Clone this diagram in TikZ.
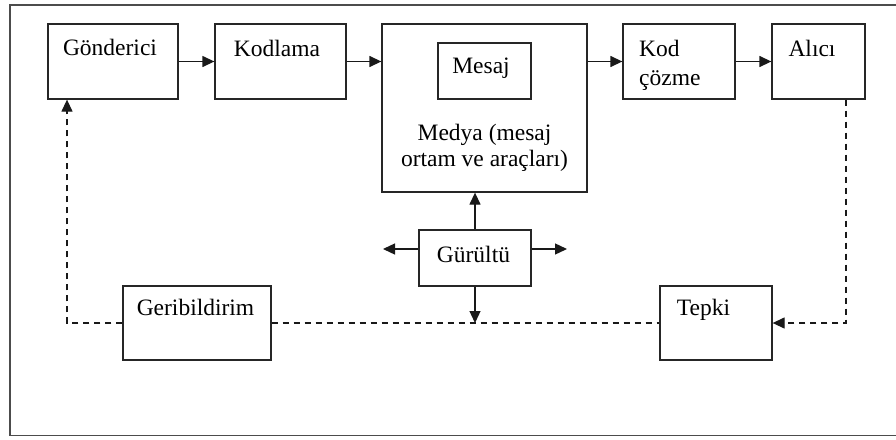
\documentclass[tikz,border=0pt]{standalone}
\usepackage{fontspec}
\setmainfont{Liberation Serif}
\usetikzlibrary{arrows.meta}
\begin{document}
\begin{tikzpicture}[x=1pt,y=-1pt,
  box/.style={draw=black!85,line width=1.3pt,inner sep=0pt,fill=none},
  txt/.style={anchor=base,inner sep=0pt,font=\fontsize{23.5}{28}\selectfont},
  tip/.style={-{Triangle[length=12pt,width=11pt]}},
  arr/.style={line width=1.3pt,draw=black!90,tip},
  dsh/.style={line width=1.3pt,draw=black!90,dash pattern=on 6pt off 5pt},
  frame/.style={line width=1.8pt,draw=black!70}]
\useasboundingbox (0,0) rectangle (896,439);
\fill[white] (0,0) rectangle (896,439);
\draw[frame] (897,5) -- (10,5) -- (10,435.5) -- (897,435.5);
% boxes
\node[box,minimum width=130pt,minimum height=75pt] (g) at (113,61.5) {};
\node[box,minimum width=131pt,minimum height=75pt] (k) at (280.5,61.5) {};
\node[box,minimum width=205pt,minimum height=168pt] (m) at (484.5,108) {};
\node[box,minimum width=93pt,minimum height=56pt] (ms) at (484.5,71) {};
\node[box,minimum width=112pt,minimum height=75pt] (kc) at (679,61.5) {};
\node[box,minimum width=93pt,minimum height=75pt] (al) at (818.5,61.5) {};
\node[box,minimum width=112pt,minimum height=56pt] (gu) at (475,258) {};
\node[box,minimum width=148pt,minimum height=74pt] (geri) at (197,323) {};
\node[box,minimum width=112pt,minimum height=74pt] (te) at (716,323) {};
% texts
\node[txt] (gT) at (110,55) {Gönderici};
\node[txt] (kT) at (277,56) {Kodlama};
\node[txt] (msT) at (481,73) {Mesaj};
\node[txt] (mT1) at (484.5,140) {Medya (mesaj};
\node[txt] (mT2) at (484.5,166) {ortam ve araçları)};
\node[txt,anchor=base west] (kcT1) at (639,56) {Kod};
\node[txt,anchor=base west] (kcT2) at (639,85) {çözme};
\node[txt] (alT) at (812,56) {Alıcı};
\node[txt] (guT) at (473.5,262) {Gürültü};
\node[txt] (geriT) at (195.5,315) {Geribildirim};
\node[txt] (teT) at (703.5,315) {Tepki};
% free ends
\coordinate (nl) at (383,249);
\coordinate (nr) at (567,249);
% main flow
\draw[arr] (g.east) -- (k.west);
\draw[arr] (k.east) -- (k.east -| m.west);
\draw[arr] (m.east |- kc.west) -- (kc.west);
\draw[arr] (kc.east) -- (al.west);
% noise
\draw[arr] (gu.north) -- (gu.north |- m.south);
\draw[arr] (gu.west |- nl) -- (nl);
\draw[arr] (gu.east |- nr) -- (nr);
\draw[arr] (gu.south) -- (gu.south |- geri.east);
% feedback
\draw[dsh] (geri.east) -- (te.west);
\draw[dsh,tip] (geri.west) -| ([xshift=-46pt]g.south);
\draw[dsh,tip] ([xshift=27.5pt]al.south) |- (te.east);
\end{tikzpicture}
\end{document}
